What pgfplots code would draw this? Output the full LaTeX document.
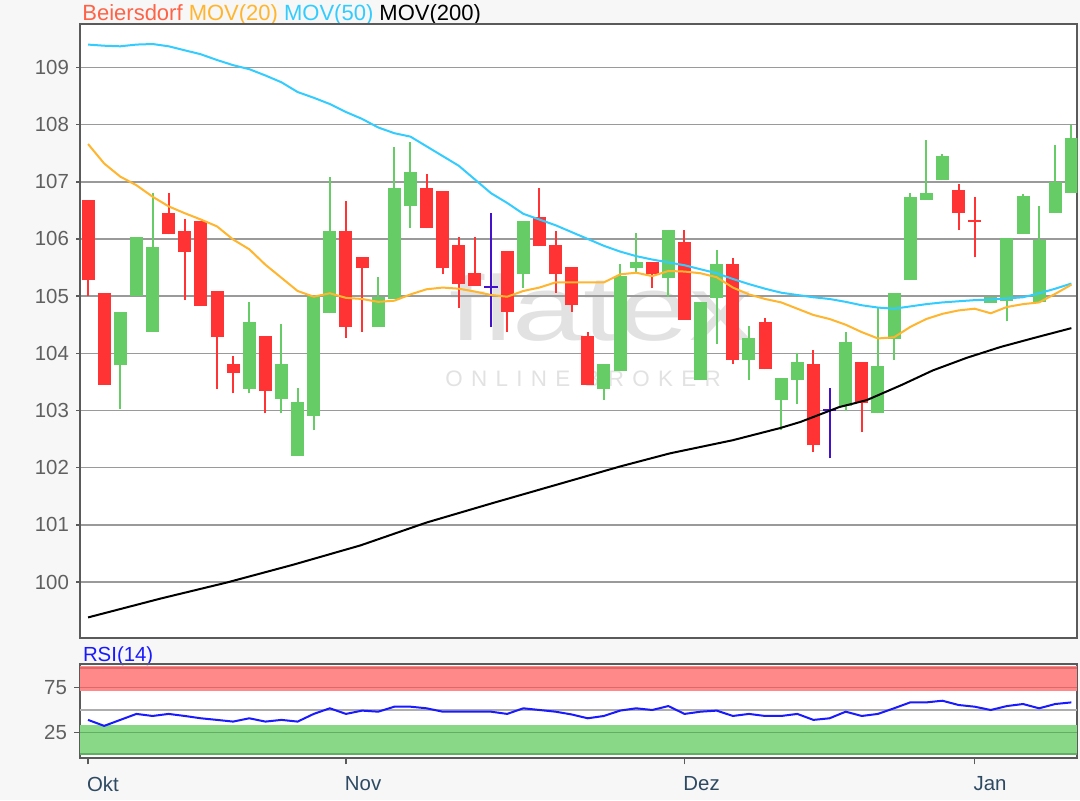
\documentclass[border=0pt]{standalone}
\usepackage{pgfplots}
\pgfplotsset{compat=1.18}
\usepackage{pgfplotstable}
\usepackage{fontspec}
\setmainfont{Liberation Sans}
\newfontfamily\wmfont[LetterSpace=37]{Liberation Sans}

\definecolor{bgcol}{HTML}{F7F7F7}
\definecolor{axiscol}{HTML}{5A5A5A}
\definecolor{gridcol}{HTML}{9A9A9A}
\definecolor{tickcol}{HTML}{606060}
\definecolor{monthcol}{HTML}{2E4A62}
\definecolor{candred}{HTML}{FF3333}
\definecolor{candgreen}{HTML}{66CC66}
\definecolor{dojiblue}{HTML}{4411CC}
\definecolor{titlered}{HTML}{FF6347}
\definecolor{movA}{HTML}{FFB52E}
\definecolor{movB}{HTML}{33CCFF}
\definecolor{rsiblue}{HTML}{1A1AFF}
\definecolor{bandred}{HTML}{FF8888}
\definecolor{bandredline}{HTML}{DD6A6A}
\definecolor{bandgreen}{HTML}{88D888}
\definecolor{bandgreenline}{HTML}{62AE62}
\definecolor{wmcol}{HTML}{E2E2E2}

% candles: index, open, high, low, close
\pgfplotstableread{
i o h l c
0 106.69 106.69 105.00 105.28
1 105.06 105.06 103.45 103.45
5 106.45 106.80 106.08 106.08
6 106.14 106.35 104.93 105.77
7 106.32 106.32 104.83 104.83
8 105.09 105.09 103.38 104.28
9 103.82 103.95 103.30 103.66
11 104.30 104.30 102.95 103.34
16 106.14 106.66 104.27 104.46
17 105.69 105.69 104.38 105.50
21 106.90 107.14 106.19 106.19
22 106.84 106.84 105.38 105.50
23 105.89 106.03 104.80 105.21
24 105.41 106.03 105.18 105.18
26 105.79 105.79 104.38 104.73
28 106.38 106.90 105.87 105.87
29 105.89 106.14 105.06 105.38
30 105.51 105.51 104.73 104.84
31 104.30 104.37 103.45 103.45
35 105.59 105.59 105.14 105.38
37 105.94 106.15 104.59 104.59
40 105.56 105.66 103.81 103.88
42 104.54 104.62 103.72 103.72
45 103.81 104.05 102.27 102.39
48 103.85 103.85 102.62 103.13
54 106.86 106.96 106.16 106.45
55 106.33 106.74 105.68 106.30
}\redcandles

\pgfplotstableread{
i o h l c
2 103.79 104.72 103.02 104.72
3 105.00 106.03 105.00 106.03
4 104.38 106.80 104.38 105.86
10 103.38 104.89 103.30 104.54
12 103.20 104.51 102.95 103.82
13 102.20 103.40 102.20 103.15
14 102.90 105.00 102.65 105.00
15 104.70 107.09 104.70 106.14
18 104.46 105.34 104.46 104.98
19 104.95 107.60 104.95 106.90
20 106.57 107.69 106.19 107.17
27 105.38 106.31 105.15 106.31
32 103.37 103.81 103.19 103.81
33 103.69 105.56 103.69 105.35
34 105.50 106.11 105.41 105.59
36 105.31 106.15 104.98 106.15
38 103.54 104.89 103.54 104.89
39 104.97 105.80 104.16 105.56
41 103.89 104.47 103.54 104.27
43 103.19 103.56 102.65 103.56
44 103.54 104.00 103.12 103.84
47 103.07 104.37 102.99 104.19
49 102.95 104.81 102.95 103.78
50 104.25 105.05 103.89 105.05
51 105.28 106.81 105.28 106.74
52 106.69 107.73 106.69 106.81
53 107.03 107.48 107.03 107.45
56 104.88 104.98 104.88 104.98
57 104.91 106.01 104.56 106.01
58 106.09 106.78 106.09 106.75
59 104.89 106.57 104.89 105.98
60 106.45 107.65 106.45 106.99
61 106.80 108.00 106.80 107.77
}\greencandles

\pgfplotstableread{
i o h l c
25 105.16 106.45 104.46 105.16
46 103.00 103.39 102.16 103.00
}\dojicandles

\pgfplotsset{
  wick/.style={draw=none, mark=none,
    error bars/.cd, y dir=plus, y explicit, error mark=none,
    error bar style={draw=#1, line width=1pt}},
  body/.style={draw=none, mark=none,
    error bars/.cd, y dir=plus, y explicit, error mark=none,
    error bar style={draw=#1, line width=6.5pt}},
  panel/.style={
    anchor=south west, width=498.65pt, scale only axis,
    xmin=-0.5, xmax=61.37,
    axis line style={draw=axiscol, line width=1pt},
    tick align=outside, ytick pos=left, xtick pos=bottom,
    tick style={axiscol, line width=0.8pt},
    ticklabel style={font=\fontsize{10.2}{12}\selectfont},
    yticklabel style={text=tickcol},
    /pgf/number format/assume math mode=true,
  },
}

\begin{document}
\begin{tikzpicture}[x=1pt,y=1pt]
\fill[bgcol] (0,0) rectangle (540,400);
\fill[white] (40,81) rectangle (538.65,388);
\fill[white] (40,20.85) rectangle (538.65,67.85);
% watermark
\node[wmcol, anchor=base, inner sep=0pt, xscale=1.38,
  font=\fontsize{46}{46}\selectfont] at (300.5,230) {flatex};
\node[wmcol, anchor=base west, inner sep=0pt,
  font=\wmfont\fontsize{11.2}{12}\selectfont] at (222.5,207) {ONLINE BROKER};

% title line
\node[anchor=base west, inner sep=0pt, font=\fontsize{11}{13}\selectfont]
  at (41,389.6) {\textcolor{titlered}{Beiersdorf} \textcolor{movA}{MOV(20)} \textcolor{movB}{MOV(50)} MOV(200)};
\node[anchor=base west, inner sep=0pt, text=rsiblue, font=\fontsize{10.2}{12}\selectfont]
  at (41.3,69.2) {RSI(14)};

\begin{axis}[panel, at={(40pt,81pt)}, height=307pt,
  ymin=99.02, ymax=109.76,
  xtick=\empty, ytick={100,101,...,109},
  ymajorgrids, grid style={gridcol, line width=0.8pt},
  major tick length=2pt,
]
\addplot[wick=candred] table[x=i, y=l, y error expr=\thisrow{h}-\thisrow{l}] {\redcandles};
\addplot[wick=candgreen] table[x=i, y=l, y error expr=\thisrow{h}-\thisrow{l}] {\greencandles};
\addplot[wick=dojiblue] table[x=i, y=l, y error expr=\thisrow{h}-\thisrow{l}] {\dojicandles};
\addplot[body=candred] table[x=i, y=c, y error expr=\thisrow{o}-\thisrow{c}] {\redcandles};
\addplot[body=candgreen] table[x=i, y=o, y error expr=\thisrow{c}-\thisrow{o}] {\greencandles};
\addplot[draw=none, mark=none, error bars/.cd, x dir=both, x fixed=0.42, error mark=none,
  error bar style={draw=dojiblue, line width=1pt}] table[x=i, y=o] {\dojicandles};

% MOV(200)
\addplot[black, line width=1pt] coordinates {
(0,99.38) (4.5,99.71) (8.6,99.99) (12.7,100.30) (16.9,100.64) (21,101.04)
(25.1,101.38) (29.3,101.72) (33,102.02) (36.1,102.25) (40,102.48) (42.9,102.69)
(44.2,102.80) (46.6,103.06) (48.3,103.18) (50.5,103.45) (52.4,103.70)
(54.5,103.92) (56.6,104.11) (58.7,104.27) (61,104.44)};
% MOV(50)
\addplot[movB, line width=1pt] coordinates {
(0,109.40) (1,109.38) (2,109.37) (3,109.40) (4,109.41) (5,109.37) (6,109.30)
(7,109.23) (8,109.13) (9,109.04) (10,108.97) (11,108.86) (12,108.74) (13,108.57)
(14,108.47) (15,108.36) (16,108.22) (17,108.10) (18,107.95) (19,107.85) (20,107.79)
(21,107.62) (22,107.45) (23,107.28) (24,107.04) (25,106.80) (26,106.63) (27,106.44)
(28,106.34) (29,106.24) (30,106.12) (31,106.00) (32,105.88) (33,105.78) (34,105.70)
(35,105.64) (36,105.59) (37,105.54) (38,105.47) (39,105.40) (40,105.30) (41,105.21)
(42,105.13) (43,105.06) (44,105.02) (45,104.98) (46,104.95) (47,104.90) (48,104.84)
(49,104.80) (50,104.78) (51,104.82) (52,104.86) (53,104.89) (54,104.91) (55,104.93)
(56,104.94) (57,104.96) (58,104.98) (59,105.05) (60,105.13) (61,105.22)};
% MOV(20)
\addplot[movA, line width=1pt] coordinates {
(0,107.66) (1,107.32) (2,107.09) (3,106.94) (4,106.74) (5,106.57) (6,106.45)
(7,106.34) (8,106.22) (9,105.99) (10,105.82) (11,105.55) (12,105.32) (13,105.09)
(14,104.99) (15,105.05) (16,104.97) (17,104.95) (18,104.90) (19,104.92) (20,105.03)
(21,105.12) (22,105.15) (23,105.13) (24,105.08) (25,105.02) (26,104.99) (27,105.09)
(28,105.15) (29,105.24) (30,105.24) (31,105.24) (32,105.24) (33,105.38) (34,105.41)
(35,105.35) (36,105.44) (37,105.43) (38,105.40) (39,105.33) (40,105.15) (41,105.03)
(42,104.95) (43,104.89) (44,104.78) (45,104.67) (46,104.60) (47,104.50) (48,104.37)
(49,104.26) (50,104.28) (51,104.46) (52,104.60) (53,104.69) (54,104.75) (55,104.78)
(56,104.70) (57,104.81) (58,104.86) (59,104.89) (60,105.04) (61,105.20)};
\end{axis}

\begin{axis}[panel, at={(40pt,20.85pt)}, height=47pt,
  ymin=-4.15, ymax=101.2,
  ytick={25,75},
  xtick={0,16,37,55}, xticklabels={Okt,Nov,Dez,Jan},
  xticklabel style={text=monthcol, anchor=north west, inner sep=0pt, xshift=-0.7pt, yshift=-6pt},
  major tick length=3pt,
]
\addplot[fill=bandred, draw=none] coordinates {(-0.5,71) (61.37,71) (61.37,99) (-0.5,99)} --cycle;
\addplot[fill=bandgreen, draw=none] coordinates {(-0.5,-1) (61.37,-1) (61.37,33) (-0.5,33)} --cycle;
\addplot[bandredline, line width=0.8pt] coordinates {(-0.5,75) (61.37,75)};
\addplot[bandredline, line width=0.8pt] coordinates {(-0.5,97) (61.37,97)};
\addplot[bandgreenline, line width=0.8pt] coordinates {(-0.5,25) (61.37,25)};
\addplot[bandgreenline, line width=0.8pt] coordinates {(-0.5,1) (61.37,1)};
\addplot[gridcol!80, line width=0.8pt] coordinates {(-0.5,50) (61.37,50)};
\addplot[rsiblue, line width=1pt] coordinates {
(0,38.9) (1,32.2) (2,38.9) (3,45.6) (4,43.3) (5,45.6) (6,43.3) (7,40.7) (8,38.9)
(9,37.0) (10,40.7) (11,37.0) (12,38.9) (13,37.0) (14,45.6) (15,51.9) (16,45.6)
(17,49.3) (18,48.1) (19,53.7) (20,53.7) (21,51.9) (22,48.1) (23,48.1) (24,48.1)
(25,48.1) (26,45.6) (27,51.9) (28,50.0) (29,48.1) (30,45.0) (31,40.7) (32,43.3)
(33,49.3) (34,51.9) (35,50.0) (36,54.4) (37,45.6) (38,48.1) (39,49.3) (40,43.3)
(41,45.6) (42,43.3) (43,43.3) (44,45.6) (45,38.9) (46,40.7) (47,48.1) (48,43.3)
(49,45.6) (50,51.9) (51,58.5) (52,58.5) (53,60.4) (54,55.6) (55,53.7) (56,50.0)
(57,54.4) (58,56.7) (59,51.9) (60,56.7) (61,58.5)};
\end{axis}
\end{tikzpicture}
\end{document}
